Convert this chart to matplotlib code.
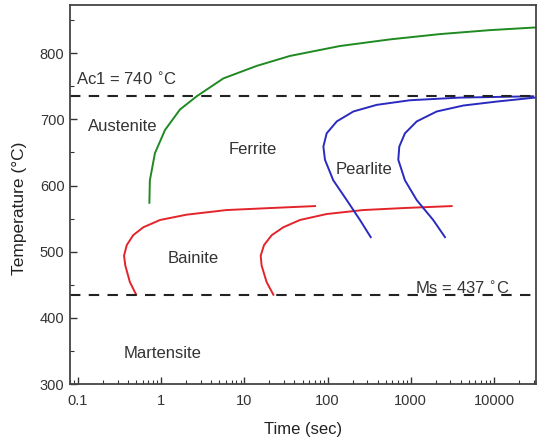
import matplotlib
matplotlib.use("Agg")
import matplotlib.pyplot as plt
from matplotlib.ticker import LogLocator, FixedLocator, MultipleLocator, FixedFormatter

plt.rcParams['font.family'] = ['Liberation Sans', 'DejaVu Sans']

# ---- data ----
ferrite_time = [0.72, 0.73, 0.84, 1.11, 1.68, 2.67, 5.58, 14.1, 35.3, 141, 562, 2240, 8950, 31100]
ferrite_temp = [574, 608, 649, 684, 715, 735, 762, 781, 796, 811, 821, 829, 835, 839]

bainite1_time = [0.50, 0.42, 0.37, 0.357, 0.385, 0.46, 0.61, 0.97, 2.02, 6.1, 20.3, 70.6]
bainite1_temp = [435, 454, 479, 494, 510, 525, 537, 548, 556, 563, 566, 569]

bainite2_time = [22.3, 18.5, 16.1, 15.7, 17.2, 21.3, 29.4, 46.6, 97.8, 268, 813, 3100]
bainite2_temp = [435, 454, 479, 494, 510, 525, 537, 548, 557, 563, 566, 569]

pearlite1_time = [330, 245, 170, 117, 93, 89, 97.5, 129, 204, 389, 977, 3900, 29600]
pearlite1_temp = [522, 548, 578, 608, 639, 659, 679, 697, 712, 722, 729, 733, 735]

pearlite2_time = [2580, 1860, 1180, 851, 708, 728, 851, 1180, 2050, 4280, 10800, 31100]
pearlite2_temp = [522, 548, 578, 608, 639, 659, 679, 697, 712, 721, 727, 733]

ac1_temp = 736
ms_temp = 435

x_ticks = [0.1, 1, 10, 100, 1000, 10000]
x_tick_labels = ["0.1", "1", "10", "100", "1000", "10000"]
y_ticks = [300, 400, 500, 600, 700, 800]

fig = plt.figure(figsize=(5.37, 4.42), dpi=100)
ax = fig.add_axes([70/537, 1-384/442, (535.5-70)/537, (384-5)/442])

green = '#1f8a22'
red = '#e3242b'
blue = '#2a2ac0'
lw = 1.4

ax.plot(ferrite_time, ferrite_temp, color=green, lw=lw)
ax.plot(bainite1_time, bainite1_temp, color=red, lw=lw)
ax.plot(bainite2_time, bainite2_temp, color=red, lw=lw)
ax.plot(pearlite1_time, pearlite1_temp, color=blue, lw=lw)
ax.plot(pearlite2_time, pearlite2_temp, color=blue, lw=lw)

ax.axhline(ac1_temp, color='#222222', lw=1.5, dashes=(5, 4))
ax.axhline(ms_temp, color='#222222', lw=1.5, dashes=(5, 4))

ax.set_xscale('log')
ax.set_xlim(0.08, 31600)
ax.set_ylim(300, 873)

ax.xaxis.set_major_locator(FixedLocator(x_ticks))
ax.xaxis.set_major_formatter(FixedFormatter(x_tick_labels))
ax.xaxis.set_minor_locator(LogLocator(base=10, subs=range(2, 10)))
ax.xaxis.set_minor_formatter(plt.NullFormatter())
ax.yaxis.set_major_locator(FixedLocator(y_ticks))
ax.yaxis.set_minor_locator(MultipleLocator(50))

ax.tick_params(which='major', direction='in', length=5, width=1, labelsize=10.5, colors='#333333', labelcolor='#333333')
ax.tick_params(axis='x', which='major', pad=7)
ax.tick_params(axis='y', which='major', pad=4)
ax.tick_params(which='minor', direction='in', length=3, width=0.8, colors='#333333')
ax.tick_params(axis='x', which='both', top=False)
ax.tick_params(axis='y', which='both', right=False)

for s in ax.spines.values():
    s.set_color('#444444')
    s.set_linewidth(1.3)

ax.set_xlabel('Time (sec)', fontsize=12, color='#222222', labelpad=10)
ax.set_ylabel('Temperature (°C)', fontsize=12.5, color='#222222')
ax.yaxis.set_label_coords(-0.093, 0.464)

txt = dict(fontsize=12, color='#333333')
ax.text(0.095, 760, 'Ac1 = 740 $^{\\circ}$C', ha='left', va='center', **txt)
ax.text(0.132, 689, 'Austenite', ha='left', va='center', **txt)
ax.text(12.7, 655, 'Ferrite', ha='center', va='center', **txt)
ax.text(276, 624, 'Pearlite', ha='center', va='center', **txt)
ax.text(2.43, 489, 'Bainite', ha='center', va='center', **txt)
ax.text(1.05, 346, 'Martensite', ha='center', va='center', **txt)
ax.text(1120, 444, 'Ms = 437 $^{\\circ}$C', ha='left', va='center', **txt)

fig.savefig('out.png', dpi=100)
